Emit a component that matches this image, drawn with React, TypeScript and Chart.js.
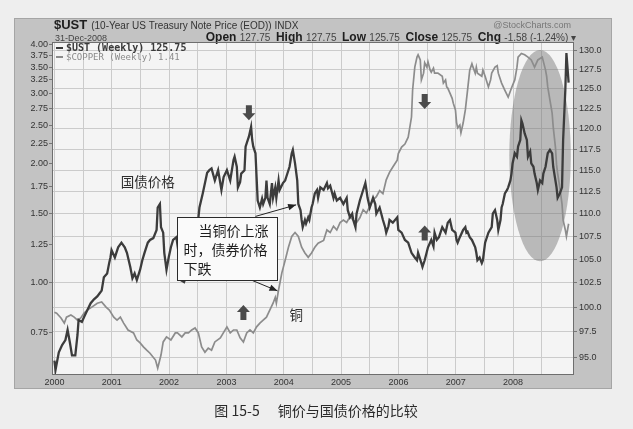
import React, { useEffect, useRef } from 'react';
import { Chart, registerables } from 'chart.js';

Chart.register(...registerables);

const W = 633;
const H = 429;

// ---------- data ----------
const YEARS = ['2000', '2001', '2002', '2003', '2004', '2005', '2006', '2007', '2008'];
const WEEKS_PER_YEAR = 52.18;
const UST_TICKS = [95, 97.5, 100, 102.5, 105, 107.5, 110, 112.5, 115, 117.5, 120, 122.5, 125, 127.5, 130];
const COPPER_TICKS = [0.75, 1.0, 1.25, 1.5, 1.75, 2.0, 2.25, 2.5, 2.75, 3.0, 3.25, 3.5, 3.75, 4.0];

// week index since first week of 2000
const UST_WEEKS = [
  0, 1, 4, 7, 10, 12, 14, 16, 19, 21,
  22, 25, 27, 30, 33, 36, 39, 41, 43, 45,
  48, 50, 51, 52, 55, 58, 61, 64, 66, 69,
  71, 73, 75, 78, 80, 82, 85, 87, 90, 93,
  94, 96, 97, 99, 100, 102, 104, 106, 108, 111,
  113, 115, 118, 121, 125, 129, 132, 135, 139, 141,
  143, 146, 149, 152, 154, 157, 160, 163, 164, 166,
  167, 169, 170, 173, 174, 176, 177, 179, 180, 181,
  183, 184, 185, 187, 189, 190, 192, 193, 194, 196,
  198, 199, 201, 202, 204, 205, 208, 210, 211, 214,
  216, 217, 219, 221, 222, 224, 225, 226, 228, 229,
  231, 232, 234, 235, 237, 239, 240, 242, 245, 248,
  249, 251, 254, 255, 257, 260, 263, 266, 267, 269,
  271, 272, 274, 275, 278, 281, 283, 284, 285, 287,
  290, 292, 293, 296, 299, 301, 302, 304, 305, 308,
  312, 313, 316, 319, 322, 325, 328, 330, 331, 334,
  335, 337, 340, 343, 345, 346, 348, 350, 353, 356,
  358, 360, 362, 365, 366, 367, 369, 372, 374, 375,
  376, 378, 380, 383, 384, 385, 387, 389, 390, 392,
  395, 398, 399, 401, 403, 404, 406, 407, 408, 410,
  412, 413, 415, 416, 417, 419, 421, 422, 424, 425,
  426, 428, 430, 431, 433, 434, 436, 437, 439, 440,
  442, 444, 445, 447, 448, 449, 451, 453, 454, 456,
  457, 458, 460, 462, 463, 465, 466, 468,
];
const UST_VALUES = [
  94.7, 93.8, 95.5, 96.2, 96.7, 97.7, 96.5, 95.2, 95.2, 97.2,
  98.7, 98.5, 99.0, 99.7, 100.4, 100.8, 101.1, 101.4, 101.7, 103.1,
  103.5, 104.7, 105.2, 106.0, 105.2, 106.3, 106.8, 106.3, 105.7, 104.2,
  103.0, 103.5, 102.8, 103.9, 104.9, 105.7, 106.8, 107.1, 107.3, 108.2,
  110.7, 111.1, 108.5, 107.9, 105.7, 103.9, 105.2, 106.3, 107.1, 107.4,
  105.7, 102.8, 102.6, 103.7, 104.7, 107.1, 110.7, 112.3, 114.7, 115.0,
  115.2, 113.8, 115.0, 112.7, 114.2, 115.0, 113.8, 116.2, 116.6, 115.4,
  113.0, 113.6, 114.6, 115.0, 117.8, 118.6, 119.0, 120.2, 118.6, 117.8,
  117.0, 114.2, 111.5, 110.7, 111.7, 111.1, 111.8, 113.8, 111.8, 111.1,
  113.5, 111.8, 113.0, 111.8, 113.8, 112.7, 113.5, 113.8, 114.2, 115.4,
  117.0, 117.4, 115.8, 113.8, 111.1, 110.4, 109.3, 108.5, 109.3, 108.9,
  109.6, 109.3, 110.7, 111.1, 112.3, 112.7, 111.8, 113.0, 112.7, 113.5,
  112.9, 113.2, 111.8, 112.3, 111.5, 111.8, 111.1, 111.8, 110.4, 109.6,
  110.0, 109.3, 108.5, 110.0, 111.5, 112.7, 113.5, 112.7, 111.8, 110.7,
  111.8, 111.1, 110.0, 110.7, 109.3, 108.5, 107.9, 108.6, 109.3, 109.0,
  109.6, 108.2, 107.9, 107.1, 106.8, 105.7, 105.2, 104.9, 105.7, 104.6,
  104.2, 104.9, 106.3, 107.1, 106.4, 107.9, 107.1, 107.4, 108.5, 107.9,
  109.0, 109.3, 108.2, 107.9, 107.1, 106.8, 107.4, 108.2, 108.5, 107.9,
  108.0, 107.4, 107.1, 106.3, 105.7, 104.9, 105.2, 104.6, 104.9, 106.8,
  107.9, 108.5, 110.0, 110.4, 109.3, 108.2, 109.3, 110.7, 111.1, 112.3,
  112.7, 113.0, 113.8, 114.6, 115.8, 117.0, 116.6, 117.8, 118.6, 121.0,
  120.6, 119.4, 118.6, 116.6, 117.2, 115.8, 115.4, 114.6, 113.5, 112.7,
  113.8, 113.5, 114.6, 115.4, 116.2, 117.0, 117.4, 117.0, 115.4, 113.8,
  113.0, 111.8, 112.3, 113.0, 118.6, 124.8, 129.6, 125.75,
];

const COPPER_WEEKS = [
  0, 2, 6, 9, 11, 15, 18, 21, 24, 27,
  30, 34, 39, 43, 47, 50, 54, 57, 60, 63,
  67, 72, 75, 78, 81, 84, 87, 92, 94, 97,
  99, 102, 106, 110, 112, 116, 119, 122, 125, 128,
  131, 134, 137, 140, 143, 146, 151, 157, 160, 163,
  166, 169, 172, 175, 178, 181, 184, 187, 190, 193,
  196, 199, 201, 202, 204, 207, 210, 213, 216, 219,
  222, 225, 228, 231, 234, 237, 240, 245, 248, 251,
  254, 257, 260, 263, 266, 269, 272, 275, 278, 281,
  284, 287, 290, 293, 296, 299, 302, 305, 308, 312,
  313, 316, 319, 322, 325, 326, 328, 330, 331, 333,
  334, 336, 337, 339, 340, 342, 343, 345, 346, 349,
  353, 354, 356, 357, 358, 360, 362, 363, 365, 366,
  367, 369, 370, 372, 374, 375, 376, 378, 380, 381,
  383, 384, 385, 389, 390, 392, 395, 397, 398, 401,
  403, 404, 407, 410, 413, 416, 419, 421, 422, 425,
  428, 431, 434, 437, 440, 444, 447, 448, 449, 451,
  453, 454, 456, 457, 458, 460, 462, 463, 465, 466,
  468,
];
const COPPER_VALUES = [
  0.844, 0.839, 0.816, 0.792, 0.820, 0.830, 0.820, 0.806, 0.816, 0.839,
  0.854, 0.869, 0.889, 0.895, 0.869, 0.854, 0.820, 0.806, 0.820, 0.792,
  0.761, 0.748, 0.718, 0.706, 0.690, 0.677, 0.665, 0.639, 0.610, 0.658,
  0.710, 0.731, 0.718, 0.748, 0.748, 0.731, 0.748, 0.748, 0.761, 0.770,
  0.748, 0.690, 0.669, 0.685, 0.677, 0.710, 0.727, 0.775, 0.748, 0.761,
  0.761, 0.727, 0.710, 0.748, 0.761, 0.748, 0.775, 0.792, 0.806, 0.820,
  0.854, 0.889, 0.920, 0.889, 0.960, 1.06, 1.14, 1.23, 1.31, 1.34,
  1.31, 1.23, 1.19, 1.16, 1.19, 1.23, 1.26, 1.28, 1.36, 1.34,
  1.39, 1.36, 1.42, 1.44, 1.42, 1.47, 1.44, 1.42, 1.46, 1.53,
  1.50, 1.56, 1.62, 1.65, 1.71, 1.68, 1.82, 1.90, 1.96, 2.04,
  2.12, 2.20, 2.24, 2.33, 2.62, 3.06, 3.50, 3.71, 3.76, 3.65,
  3.25, 3.38, 3.59, 3.50, 3.61, 3.44, 3.40, 3.48, 3.38, 3.38,
  3.32, 3.19, 3.25, 3.12, 3.10, 3.01, 2.92, 2.84, 2.73, 2.54,
  2.46, 2.50, 2.39, 2.53, 2.73, 2.89, 3.06, 3.44, 3.57, 3.50,
  3.38, 3.50, 3.38, 3.32, 3.44, 3.32, 3.12, 3.25, 3.38, 3.50,
  3.53, 3.38, 3.19, 3.06, 2.94, 3.10, 3.25, 3.50, 3.71, 3.79,
  3.76, 3.71, 3.65, 3.50, 3.65, 3.71, 3.44, 3.32, 3.12, 2.89,
  2.68, 2.47, 2.20, 1.99, 1.89, 1.74, 1.58, 1.44, 1.36, 1.31,
  1.41,
];

// ---------- texts ----------
const TITLE_SYMBOL = '$UST';
const TITLE_NAME = '(10-Year US Treasury Note Price (EOD)) INDX';
const TITLE_DATE = '31-Dec-2008';
const QUOTE_LABELS = ['Open', 'High', 'Low', 'Close', 'Chg'];
const QUOTE_VALUES = ['127.75', '127.75', '125.75', '125.75', '-1.58 (-1.24%) \u25BE'];
const BRAND = '@StockCharts.com';
const LEGEND_TEXTS = ['$UST (Weekly) 125.75', '$COPPER (Weekly) 1.41'];
const CAPTION_NUM = '图 15-5';
const CAPTION_TEXT = '铜价与国债价格的比较';
const CALLOUT_LINES = ['当铜价上涨', '时，债券价格', '下跌'];

// ---------- annotations (anchored in data units) ----------
const ARROWS = [
  { week: 177, axis: 'ust', value: 121.0, dir: 'down' },
  { week: 337, axis: 'ust', value: 122.4, dir: 'down' },
  { week: 172, axis: 'copper', value: 0.88, dir: 'up' },
  { week: 337, axis: 'ust', value: 108.7, dir: 'up' },
];
const LABELS = [
  { text: '国债价格', week: 85, axis: 'ust', value: 113.6 },
  { text: '铜', week: 220, axis: 'copper', value: 0.83 },
];
const CALLOUT_BOX = { weekFrom: 112, weekTo: 203, ustTop: 109.6, ustBottom: 102.8 };
const LEADERS = [
  { fromWeek: 183, fromAxis: 'ust', fromValue: 109.7, toWeek: 220, toAxis: 'ust', toValue: 111.0 },
  { fromWeek: 178, fromAxis: 'copper', fromValue: 1.02, toWeek: 203, toAxis: 'copper', toValue: 0.955 },
];
const HIGHLIGHT = { week: 442, halfWeeks: 28, ustTop: 130.0, ustBottom: 104.8 };

const SANS = '"Liberation Sans", Arial, sans-serif';
const CJK = '"Noto Sans CJK SC", sans-serif';

function drawBlockArrow(ctx: CanvasRenderingContext2D, cx: number, tipY: number, dir: string) {
  const h = 15, headH = 7, headW = 13, shaftW = 6;
  const s = dir === 'down' ? -1 : 1; // direction from tip toward tail
  ctx.beginPath();
  ctx.moveTo(cx, tipY);
  ctx.lineTo(cx - headW / 2, tipY + s * headH);
  ctx.lineTo(cx - shaftW / 2, tipY + s * headH);
  ctx.lineTo(cx - shaftW / 2, tipY + s * h);
  ctx.lineTo(cx + shaftW / 2, tipY + s * h);
  ctx.lineTo(cx + shaftW / 2, tipY + s * headH);
  ctx.lineTo(cx + headW / 2, tipY + s * headH);
  ctx.closePath();
  ctx.fillStyle = '#4a4a4a';
  ctx.fill();
}

function drawLeader(ctx: CanvasRenderingContext2D, x1: number, y1: number, x2: number, y2: number) {
  ctx.strokeStyle = '#222';
  ctx.lineWidth = 1;
  ctx.beginPath();
  ctx.moveTo(x1, y1);
  ctx.lineTo(x2, y2);
  ctx.stroke();
  const ang = Math.atan2(y2 - y1, x2 - x1);
  const L = 8, Wd = 3.2;
  ctx.beginPath();
  ctx.moveTo(x2, y2);
  ctx.lineTo(x2 - L * Math.cos(ang) + Wd * Math.sin(ang), y2 - L * Math.sin(ang) - Wd * Math.cos(ang));
  ctx.lineTo(x2 - L * Math.cos(ang) - Wd * Math.sin(ang), y2 - L * Math.sin(ang) + Wd * Math.cos(ang));
  ctx.closePath();
  ctx.fillStyle = '#222';
  ctx.fill();
}

const decorPlugin = {
  id: 'decor',
  beforeDraw(chart: any) {
    const { ctx, chartArea: a } = chart;
    ctx.save();
    ctx.fillStyle = '#eeeeee';
    ctx.fillRect(0, 0, W, H);
    // chart frame
    ctx.fillStyle = '#c3c3c3';
    ctx.fillRect(14, 18, 598, 371);
    ctx.strokeStyle = '#a5a5a5';
    ctx.lineWidth = 1;
    ctx.strokeRect(14.5, 18.5, 597, 370);
    // plot background
    ctx.fillStyle = '#f4f4f4';
    ctx.fillRect(a.left, a.top, a.right - a.left, a.bottom - a.top);

    // header
    ctx.textBaseline = 'alphabetic';
    ctx.textAlign = 'left';
    ctx.fillStyle = '#1e1e1e';
    ctx.font = `bold 13px ${SANS}`;
    ctx.fillText(TITLE_SYMBOL, 54, 29);
    const sw = ctx.measureText(TITLE_SYMBOL).width;
    ctx.font = `10px ${SANS}`;
    ctx.fillStyle = '#333';
    ctx.fillText(TITLE_NAME, 54 + sw + 4, 29);
    ctx.font = `9px ${SANS}`;
    ctx.fillStyle = '#444';
    ctx.fillText(TITLE_DATE, 55, 41);

    ctx.font = `9px ${SANS}`;
    ctx.fillStyle = '#777';
    ctx.textAlign = 'right';
    ctx.fillText(BRAND, 571, 28);

    // quote line, right aligned at 576
    ctx.textAlign = 'left';
    const boldF = `bold 12px ${SANS}`;
    const valF = `10px ${SANS}`;
    let total = 0;
    const parts: { t: string; f: string; c: string; w: number }[] = [];
    QUOTE_LABELS.forEach((lab, i) => {
      ctx.font = boldF;
      const w1 = ctx.measureText(lab + ' ').width;
      parts.push({ t: lab + ' ', f: boldF, c: '#1e1e1e', w: w1 });
      ctx.font = valF;
      const vt = QUOTE_VALUES[i] + (i < QUOTE_LABELS.length - 1 ? '  ' : '');
      const w2 = ctx.measureText(vt).width;
      parts.push({ t: vt, f: valF, c: '#444', w: w2 });
      total += w1 + w2;
    });
    let xq = 576 - total;
    parts.forEach((p) => {
      ctx.font = p.f;
      ctx.fillStyle = p.c;
      ctx.fillText(p.t, xq, 41);
      xq += p.w;
    });
    ctx.restore();
  },
  beforeDatasetsDraw(chart: any) {
    const { ctx, chartArea: a, scales } = chart;
    const x = scales.x;
    const yR = scales.yR;
    ctx.save();
    ctx.beginPath();
    ctx.rect(a.left, a.top, a.right - a.left, a.bottom - a.top);
    ctx.clip();
    const cx = x.getPixelForValue(HIGHLIGHT.week);
    const rx = x.getPixelForValue(HIGHLIGHT.week + HIGHLIGHT.halfWeeks) - cx;
    const top = yR.getPixelForValue(HIGHLIGHT.ustTop);
    const bot = yR.getPixelForValue(HIGHLIGHT.ustBottom);
    ctx.beginPath();
    ctx.ellipse(cx, (top + bot) / 2, rx, (bot - top) / 2, 0, 0, Math.PI * 2);
    ctx.fillStyle = 'rgba(110,110,110,0.44)';
    ctx.fill();
    ctx.restore();
  },
  afterDatasetsDraw(chart: any) {
    const { ctx, chartArea: a, scales } = chart;
    const x = scales.x;
    const yPix = (axis: string, v: number) => (axis === 'ust' ? scales.yR : scales.yL).getPixelForValue(v);
    ctx.save();
    // plot border
    ctx.strokeStyle = '#6e6e6e';
    ctx.lineWidth = 1;
    ctx.strokeRect(a.left + 0.5, a.top + 0.5, a.right - a.left - 1, a.bottom - a.top - 1);

    // legend
    ctx.textBaseline = 'middle';
    ctx.textAlign = 'left';
    ctx.fillStyle = '#3a3a3a';
    ctx.fillRect(a.left + 4, a.top + 5, 7, 2);
    ctx.font = `bold 10px "DejaVu Sans Mono", monospace`;
    ctx.fillText(LEGEND_TEXTS[0], a.left + 14, a.top + 6.5);
    ctx.fillStyle = '#8a8a8a';
    ctx.fillRect(a.left + 4, a.top + 14, 7, 2);
    ctx.font = `9px "DejaVu Sans Mono", monospace`;
    ctx.fillText(LEGEND_TEXTS[1], a.left + 14, a.top + 15.5);

    // arrows
    ARROWS.forEach((ar) => {
      drawBlockArrow(ctx, x.getPixelForValue(ar.week), yPix(ar.axis, ar.value), ar.dir);
    });

    // labels
    ctx.font = `13.5px ${CJK}`;
    ctx.fillStyle = '#2e2e2e';
    ctx.textAlign = 'center';
    LABELS.forEach((lb) => {
      ctx.fillText(lb.text, x.getPixelForValue(lb.week), yPix(lb.axis, lb.value));
    });

    // leaders
    LEADERS.forEach((ld) => {
      drawLeader(
        ctx,
        x.getPixelForValue(ld.fromWeek), yPix(ld.fromAxis, ld.fromValue),
        x.getPixelForValue(ld.toWeek), yPix(ld.toAxis, ld.toValue),
      );
    });

    // callout box
    const bx1 = Math.round(x.getPixelForValue(CALLOUT_BOX.weekFrom)) + 0.5;
    const bx2 = Math.round(x.getPixelForValue(CALLOUT_BOX.weekTo)) + 0.5;
    const by1 = Math.round(yPix('ust', CALLOUT_BOX.ustTop)) + 0.5;
    const by2 = Math.round(yPix('ust', CALLOUT_BOX.ustBottom)) + 0.5;
    ctx.fillStyle = '#fafafa';
    ctx.fillRect(bx1, by1, bx2 - bx1, by2 - by1);
    ctx.strokeStyle = '#2a2a2a';
    ctx.lineWidth = 1;
    ctx.strokeRect(bx1, by1, bx2 - bx1, by2 - by1);
    ctx.font = `14px ${CJK}`;
    ctx.fillStyle = '#1e1e1e';
    ctx.textAlign = 'left';
    ctx.fillText(CALLOUT_LINES[0], bx1 + 21, by1 + 13);
    ctx.fillText(CALLOUT_LINES[1], bx1 + 6, by1 + 32);
    ctx.fillText(CALLOUT_LINES[2], bx1 + 6, by1 + 51);
    ctx.restore();
  },
  afterDraw(chart: any) {
    const { ctx } = chart;
    ctx.save();
    ctx.textBaseline = 'middle';
    ctx.fillStyle = '#2a2a2a';
    ctx.font = `14px ${CJK}`;
    ctx.textAlign = 'left';
    const w1 = ctx.measureText(CAPTION_NUM).width;
    const gap = 18;
    const w2 = ctx.measureText(CAPTION_TEXT).width;
    const start = 316 - (w1 + gap + w2) / 2;
    ctx.fillText(CAPTION_NUM, start, 411);
    ctx.fillText(CAPTION_TEXT, start + w1 + gap, 411);
    ctx.restore();
  },
};

export default function App() {
  const ref = useRef<HTMLCanvasElement | null>(null);

  useEffect(() => {
    if (!ref.current) return;
    const halfYearTicks = YEARS.flatMap((_, i) => [i * WEEKS_PER_YEAR, (i + 0.5) * WEEKS_PER_YEAR]);
    const chart = new Chart(ref.current, {
      type: 'line',
      data: {
        datasets: [
          {
            label: '$UST',
            data: UST_WEEKS.map((w, i) => ({ x: w, y: UST_VALUES[i] })),
            yAxisID: 'yR',
            borderColor: '#3c3c3c',
            borderWidth: 2.3,
            pointRadius: 0,
            tension: 0,
          },
          {
            label: '$COPPER',
            data: COPPER_WEEKS.map((w, i) => ({ x: w, y: COPPER_VALUES[i] })),
            yAxisID: 'yL',
            borderColor: '#8c8c8c',
            borderWidth: 1.7,
            pointRadius: 0,
            tension: 0,
          },
        ],
      },
      options: {
        responsive: false,
        animation: false,
        devicePixelRatio: 1,
        layout: { padding: { left: 14, right: 21, top: 42, bottom: 41 } },
        plugins: { legend: { display: false }, tooltip: { enabled: false }, title: { display: false } },
        scales: {
          x: {
            type: 'linear',
            bounds: 'data',
            min: -2.2,
            max: 472.9,
            afterBuildTicks: (s: any) => {
              s.ticks = halfYearTicks.map((v) => ({ value: v }));
            },
            afterFit: (s: any) => {
              s.height = 13;
            },
            ticks: {
              autoSkip: false,
              maxRotation: 0,
              padding: 2,
              color: '#333',
              font: { family: SANS, size: 9 },
              callback: (_v: any, i: number) => (i % 2 === 0 ? YEARS[i / 2] : ''),
            },
            grid: { color: '#cbcbcb', lineWidth: 1, drawTicks: false },
            border: { display: false },
          },
          yL: {
            type: 'logarithmic',
            position: 'left',
            bounds: 'data',
            min: 0.586,
            max: 4.05,
            afterBuildTicks: (s: any) => {
              s.ticks = COPPER_TICKS.map((v) => ({ value: v }));
            },
            afterFit: (s: any) => {
              s.width = 38;
            },
            ticks: {
              padding: 1,
              color: '#333',
              font: { family: SANS, size: 9 },
              callback: (v: any) => Number(v).toFixed(2),
            },
            grid: { drawOnChartArea: false, tickLength: 3, color: '#777' },
            border: { display: false },
          },
          yR: {
            type: 'logarithmic',
            position: 'right',
            bounds: 'data',
            min: 93.31,
            max: 131.07,
            afterBuildTicks: (s: any) => {
              s.ticks = UST_TICKS.map((v) => ({ value: v }));
            },
            afterFit: (s: any) => {
              s.width = 38;
            },
            ticks: {
              padding: 2,
              color: '#333',
              font: { family: SANS, size: 9 },
              callback: (v: any) => Number(v).toFixed(1),
            },
            grid: { color: '#cbcbcb', tickLength: 3, tickColor: '#777' },
            border: { display: false },
          },
        },
      } as any,
      plugins: [decorPlugin],
    });
    return () => chart.destroy();
  }, []);

  return (
    <div style={{ position: 'fixed', left: 0, top: 0, width: W, height: H, background: '#eeeeee' }}>
      <canvas ref={ref} width={W} height={H} style={{ width: W, height: H, display: 'block' }} />
    </div>
  );
}
